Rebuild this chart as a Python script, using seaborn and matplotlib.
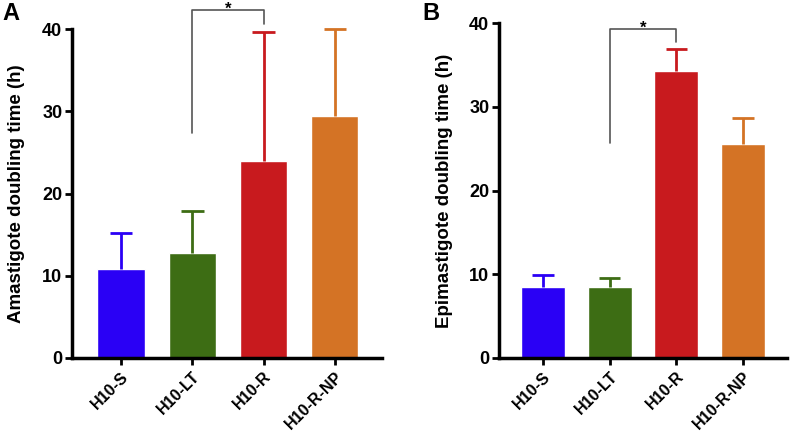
import numpy as np
import matplotlib
matplotlib.use('Agg')
import matplotlib.pyplot as plt
import seaborn as sns

# data
groups = ['H10-S', 'H10-LT', 'H10-R', 'H10-R-NP']
ama_mean = [10.8, 12.8, 24.0, 29.4]
ama_err = [4.4, 5.1, 15.6, 10.6]
epi_mean = [8.5, 8.5, 34.3, 25.6]
epi_err = [1.4, 1.1, 2.6, 3.1]
colors = ['#2a00f5', '#3d6d14', '#c81a1e', '#d47325']

sns.set_style('ticks')
plt.rcParams['font.family'] = ['Liberation Sans', 'DejaVu Sans']
plt.rcParams['font.weight'] = 'bold'
for key in ['text.color', 'xtick.color', 'ytick.color', 'axes.labelcolor', 'axes.edgecolor']:
    plt.rcParams[key] = 'black'

fig = plt.figure(figsize=(7.9, 4.32), dpi=100)
axA = fig.add_axes([72/790, 1 - 358/432, (382 - 72)/790, (358 - 29)/432])
axB = fig.add_axes([499/790, 1 - 358/432, (787 - 499)/790, (358 - 23)/432])


def draw_panel(ax, means, errs, ylabel, xlim, bracket, letter, letter_xy, label_x):
    sns.barplot(x=groups, y=means, hue=groups, palette=colors, legend=False,
                width=0.66, saturation=1, ax=ax, errorbar=None)
    # upward-only error bars
    for i, (m, e) in enumerate(zip(means, errs)):
        ax.vlines(i, m, m + e, color=colors[i], lw=2, clip_on=False, zorder=3)
        ax.hlines(m + e, i - 0.16, i + 0.16, color=colors[i], lw=2, clip_on=False, zorder=3)
    ax.set_xlim(*xlim)
    ax.set_ylim(0, 40)
    ax.set_yticks([0, 10, 20, 30, 40])
    ax.tick_params(axis='both', width=2, length=5, labelsize=13, direction='out')
    ax.tick_params(axis='y', pad=2)
    ax.tick_params(axis='x', labelsize=11.5, pad=3)
    for lbl in ax.get_xticklabels():
        lbl.set_rotation(45)
        lbl.set_ha('right')
        lbl.set_rotation_mode('anchor')
        lbl.set_fontweight('bold')
    for lbl in ax.get_yticklabels():
        lbl.set_fontweight('bold')
    ax.set_xlabel('')
    ax.set_ylabel(ylabel, fontsize=13.5, fontweight='bold')
    ax.yaxis.set_label_coords(label_x, 0.5)
    sns.despine(ax=ax)
    ax.spines['left'].set_linewidth(2.5)
    ax.spines['bottom'].set_linewidth(2.5)
    # significance bracket
    y_left, y_top, y_right = bracket
    ax.plot([1, 1, 2, 2], [y_left, y_top, y_top, y_right], color='#555555',
            lw=1.2, clip_on=False)
    ax.text(1.5, y_top - 0.5, '*', ha='center', va='baseline', fontsize=12, clip_on=False)
    fig.text(letter_xy[0], letter_xy[1], letter, fontsize=17, fontweight='bold',
             ha='left', va='center')


draw_panel(axA, ama_mean, ama_err, 'Amastigote doubling time (h)',
           (-0.687, 3.66), (27.4, 42.3, 40.6), 'A', (2/790, 1 - 14/432), -0.152)
draw_panel(axB, epi_mean, epi_err, 'Epimastigote doubling time (h)',
           (-0.66, 3.66), (25.7, 39.3, 37.7), 'B', (422/790, 1 - 14/432), -0.16)

fig.savefig('out.png', dpi=100)
